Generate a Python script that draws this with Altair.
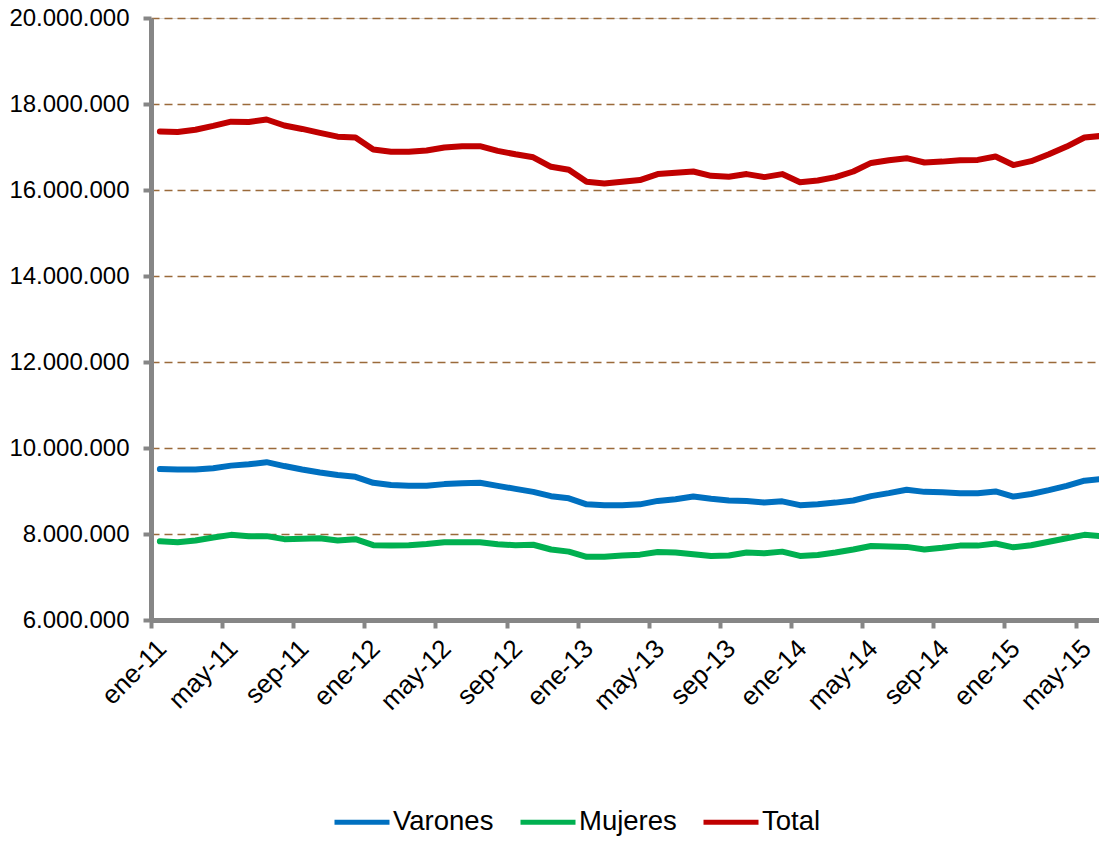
import altair as alt
import pandas as pd

meses = ["ene", "feb", "mar", "abr", "may", "jun", "jul", "ago", "sep", "oct", "nov", "dic"]
series = ["Varones", "Mujeres", "Total"]
colores = ["#0070C0", "#00B050", "#C00000"]

# millones de personas, ene-11 .. jun-15 (54 meses)
varones = [9.51, 9.50, 9.50, 9.53, 9.59, 9.62, 9.67, 9.58, 9.50, 9.43, 9.37, 9.33,
           9.19, 9.14, 9.12, 9.12, 9.16, 9.18, 9.19, 9.12, 9.05, 8.98, 8.88, 8.83,
           8.69, 8.67, 8.67, 8.69, 8.77, 8.81, 8.87, 8.82, 8.78, 8.77, 8.73, 8.76,
           8.67, 8.69, 8.73, 8.78, 8.88, 8.95, 9.03, 8.98, 8.97, 8.95, 8.95, 8.99,
           8.87, 8.93, 9.02, 9.12, 9.24, 9.28]
mujeres = [7.83, 7.81, 7.85, 7.92, 7.98, 7.95, 7.95, 7.88, 7.89, 7.90, 7.85, 7.88,
           7.74, 7.73, 7.74, 7.77, 7.81, 7.81, 7.81, 7.76, 7.74, 7.75, 7.64, 7.59,
           7.47, 7.47, 7.50, 7.52, 7.58, 7.57, 7.53, 7.49, 7.50, 7.57, 7.55, 7.59,
           7.49, 7.51, 7.57, 7.64, 7.72, 7.71, 7.70, 7.64, 7.68, 7.73, 7.73, 7.78,
           7.69, 7.74, 7.82, 7.90, 7.98, 7.95]
total = [17.36, 17.35, 17.40, 17.49, 17.59, 17.58, 17.64, 17.50, 17.42, 17.33, 17.24, 17.22,
         16.94, 16.89, 16.89, 16.92, 16.99, 17.02, 17.02, 16.91, 16.83, 16.76, 16.54, 16.47,
         16.19, 16.15, 16.19, 16.23, 16.37, 16.40, 16.43, 16.33, 16.31, 16.37, 16.30, 16.37,
         16.18, 16.22, 16.30, 16.43, 16.63, 16.69, 16.74, 16.64, 16.66, 16.69, 16.70, 16.78,
         16.58, 16.67, 16.83, 17.01, 17.22, 17.26]

rows = []
for name, vals in zip(series, [varones, mujeres, total]):
    for i, v in enumerate(vals):
        rows.append({"idx": i, "serie": name, "valor": v * 1e6})
df = pd.DataFrame(rows)

px_per_month = 17.78
plot_w = 948
plot_h = 602
x_domain = [-0.5, -0.5 + plot_w / px_per_month]

meses_js = "[" + ",".join(f"'{m}'" for m in meses) + "]"
x_label_expr = (f"{meses_js}[round(datum.value+0.5)%12] + '-' + "
                f"(11 + floor(round(datum.value+0.5)/12))")
y_label_expr = "replace(format(datum.value, ','), /,/g, '.')"

FONT = "Liberation Sans"
GRAY = "#868686"

chart = alt.Chart(df).mark_line(strokeWidth=6, strokeCap="round", strokeJoin="round").encode(
    x=alt.X("idx:Q",
            scale=alt.Scale(domain=x_domain, nice=False, zero=False),
            axis=alt.Axis(values=[-0.5 + 4 * k for k in range(14)],
                          labelExpr=x_label_expr, labelOffset=px_per_month / 2 + 2,
                          labelAngle=-45, labelAlign="right", labelBaseline="middle",
                          labelFont=FONT, labelFontSize=26, labelColor="black",
                          labelPadding=16, labelOverlap=False, labelBound=False, labelFlush=False,
                          domainColor=GRAY, domainWidth=5, tickColor=GRAY, tickWidth=4, tickSize=8,
                          grid=False, title=None)),
    y=alt.Y("valor:Q",
            scale=alt.Scale(domain=[6e6, 2e7], nice=False, zero=False),
            axis=alt.Axis(values=[6e6 + 2e6 * k for k in range(8)],
                          labelExpr=y_label_expr,
                          labelFont=FONT, labelFontSize=24, labelColor="black", labelPadding=14,
                          domainColor=GRAY, domainWidth=5, tickColor=GRAY, tickWidth=4, tickSize=8,
                          grid=True, gridColor="#9A6A3A", gridDash=[8, 5], gridWidth=1.6,
                          title=None)),
    color=alt.Color("serie:N",
                    scale=alt.Scale(domain=series, range=colores),
                    sort=series,
                    legend=alt.Legend(title=None, orient="none", direction="horizontal",
                                      legendX=181, legendY=774,
                                      symbolType="stroke", symbolSize=3025, symbolStrokeWidth=5,
                                      labelFont=FONT, labelFontSize=27.5, labelColor="black",
                                      labelOffset=1, columnPadding=16, padding=0)),
    order="idx:Q",
).properties(
    width=plot_w, height=plot_h,
    autosize=alt.AutoSizeParams(type="none"),
    padding={"left": 143, "top": 10, "right": 0, "bottom": 216},
).configure_view(stroke=None).configure(background="white")

chart.save("out.html", embed_options={"renderer": "svg", "actions": False})
